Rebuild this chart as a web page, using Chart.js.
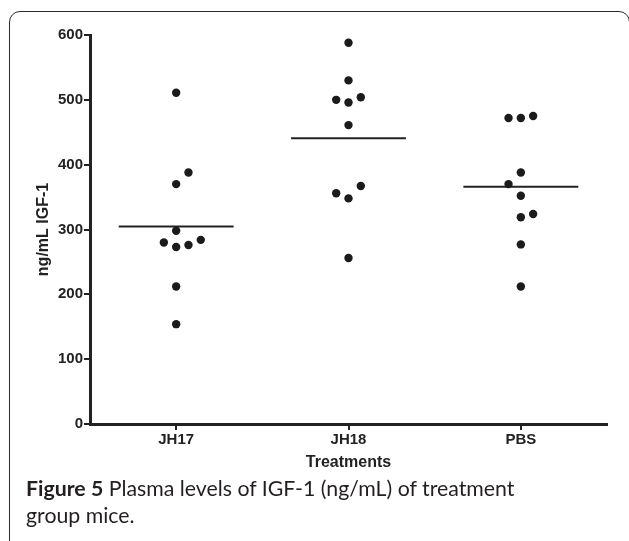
<!DOCTYPE html>
<html>
<head>
<meta charset="utf-8">
<script src="https://cdn.jsdelivr.net/npm/chart.js@4/dist/chart.umd.min.js"></script>
<style>
body { margin: 0; background: #fff; width: 629px; height: 541px; overflow: hidden; position: relative; }
#frame { position: absolute; left: 9px; top: 11px; width: 621px; height: 600px; box-sizing: border-box; border: 1.5px solid #2b2b2b; border-radius: 11px; }
#chart { position: absolute; left: 0; top: 0; }
#caption { position: absolute; left: 26px; top: 475px; width: 600px; font-family: Lato, sans-serif; font-size: 21.3px; line-height: 27px; color: #231f20; white-space: nowrap; }
</style>
</head>
<body>
<div id="frame"></div>
<canvas id="chart" width="629" height="480"></canvas>
<div id="caption"><b>Figure 5</b> Plasma levels of IGF-1 (ng/mL) of treatment<br>group mice.</div>
<script>
const categories = ['JH17', 'JH18', 'PBS'];
const jh17Values = [511, 370, 273, 276, 280, 284, 388, 298, 212, 154];
const jh18Values = [588, 530, 496, 504, 500, 461, 348, 367, 356, 256];
const pbsValues = [472, 475, 472, 388, 319, 324, 370, 352, 277, 212];
const yTicks = [0, 100, 200, 300, 400, 500, 600];

const groups = [jh17Values, jh18Values, pbsValues];
const ink = '#222';

// push overlapping dots into side columns, like a column scatter plot
const colStep = 0.0714;
const minGap = 22;
function spread(values, center) {
	const placed = [];
	return values.map(v => {
		const free = c => !placed.some(p => p.col === c && Math.abs(p.v - v) < minGap);
		const count = c => placed.filter(p => p.col === c).length;
		let col = 0;
		if (!free(0)) {
			for (let k = 1; k < 6; k++) {
				const order = count(-k) < count(k) ? [-k, k] : [k, -k];
				const hit = order.find(free);
				if (hit !== undefined) { col = hit; break; }
			}
		}
		placed.push({ v: v, col: col });
		return { x: center + col * colStep, y: v };
	});
}

function mean(values) {
	return values.reduce((a, b) => a + b, 0) / values.length;
}

const datasets = [];
groups.forEach((vals, i) => {
	datasets.push({
		data: spread(vals, i),
		showLine: false,
		pointRadius: 4.2,
		pointBackgroundColor: '#1b1b1b',
		pointBorderWidth: 0
	});
	const m = mean(vals);
	datasets.push({
		data: [{ x: i - 1 / 3, y: m }, { x: i + 1 / 3, y: m }],
		showLine: true,
		borderColor: ink,
		borderWidth: 2,
		pointRadius: 0
	});
});

Chart.defaults.font.family = '"Liberation Sans", Arial, sans-serif';
Chart.defaults.color = ink;

new Chart(document.getElementById('chart'), {
	type: 'scatter',
	data: { datasets: datasets },
	options: {
		responsive: false,
		animation: false,
		devicePixelRatio: 1,
		layout: { padding: { left: 30, right: 22, top: 35, bottom: 0 } },
		plugins: { legend: { display: false }, tooltip: { enabled: false } },
		scales: {
			x: {
				type: 'linear',
				min: -0.5,
				max: 2.5,
				afterBuildTicks: s => { s.ticks = categories.map((c, i) => ({ value: i })); },
				afterFit: s => { s.height = 56; },
				ticks: {
					callback: v => categories[v],
					font: { size: 15, weight: 'bold' },
					color: ink,
					padding: 1,
					maxRotation: 0,
					autoSkip: false
				},
				grid: { drawOnChartArea: false, tickLength: 6, color: ink, lineWidth: 2 },
				border: { color: ink, width: 3 },
				title: {
					display: true,
					text: 'Treatments',
					font: { size: 16, weight: 'bold' },
					color: ink,
					padding: { top: 0, bottom: 8 }
				}
			},
			y: {
				min: 0,
				max: 600,
				afterBuildTicks: s => { s.ticks = yTicks.map(v => ({ value: v })); },
				afterFit: s => { s.width = 60; },
				ticks: { font: { size: 15, weight: 'bold' }, color: ink, padding: 1 },
				grid: { drawOnChartArea: false, tickLength: 6, color: ink, lineWidth: 2 },
				border: { color: ink, width: 3 },
				title: {
					display: true,
					text: 'ng/mL IGF-1',
					font: { size: 16, weight: 'bold' },
					color: ink,
					padding: { top: 4, bottom: 0 }
				}
			}
		}
	}
});
</script>
</body>
</html>
